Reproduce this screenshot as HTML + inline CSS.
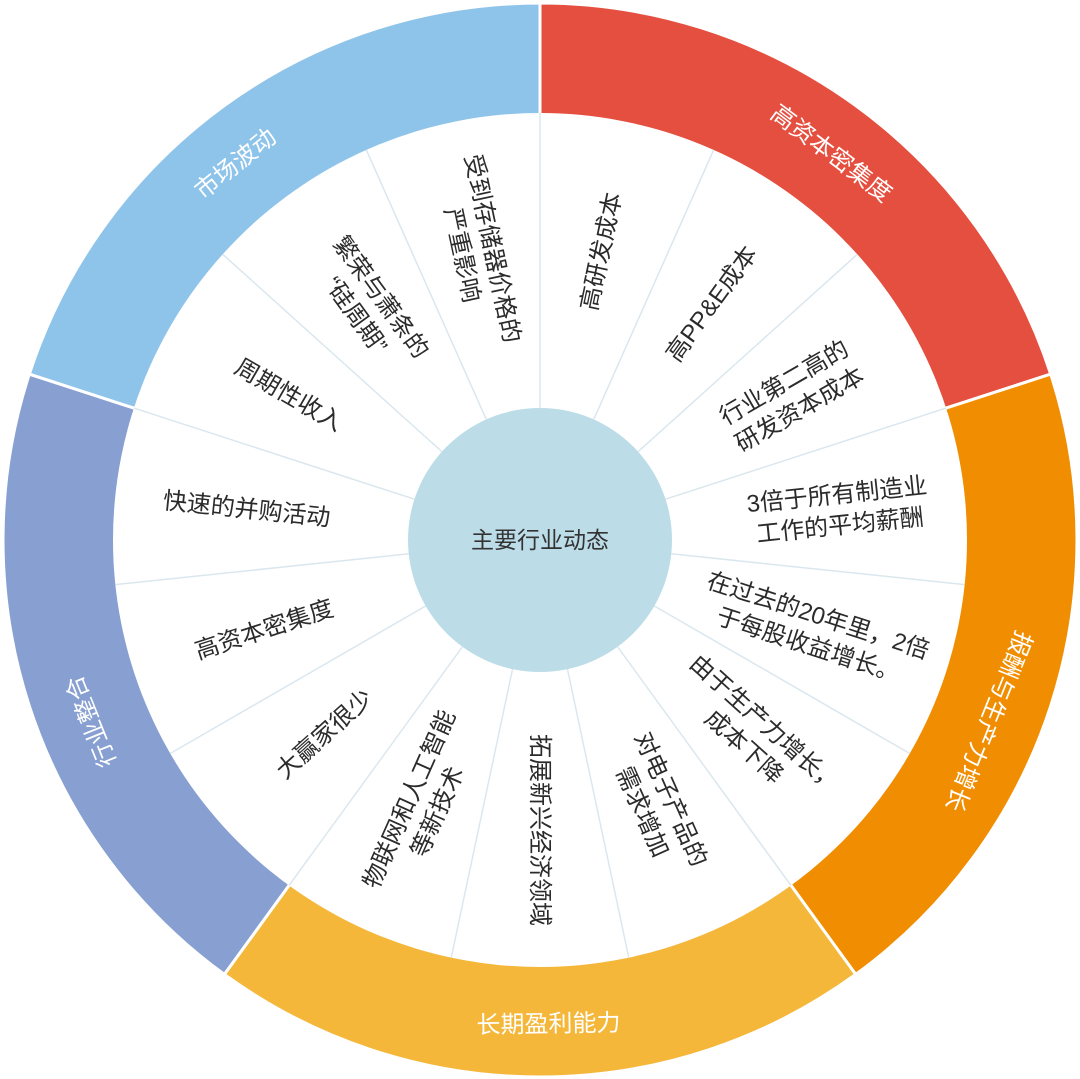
<!DOCTYPE html>
<html><head><meta charset="utf-8"><style>
html,body{margin:0;padding:0;background:#fff;}
svg{display:block;}
text{font-family:"Liberation Sans","Noto Sans CJK SC",sans-serif;}
.in{font-size:24px;fill:#2b2b2b;}
.out{font-size:24px;fill:#fff;}
</style></head><body>
<svg width="1080" height="1079" viewBox="0 0 1080 1079" xmlns="http://www.w3.org/2000/svg">
<g stroke="#fff" stroke-width="3">
<path d="M540 540 L540 3 A537 537 0 0 1 1050.7 374.1 Z" fill="#e54f3f"/>
<path d="M540 540 L1050.7 374.1 A537 537 0 0 1 855.7 974.4 Z" fill="#f18d00"/>
<path d="M540 540 L855.7 974.4 A537 537 0 0 1 224.3 974.4 Z" fill="#f4b73a"/>
<path d="M540 540 L224.3 974.4 A537 537 0 0 1 29.3 374.1 Z" fill="#879fd1"/>
<path d="M540 540 L29.3 374.1 A537 537 0 0 1 540 3 Z" fill="#8fc4ea"/>
</g>
<circle cx="540" cy="540" r="427" fill="#fff"/>
<g stroke="#dbe7ee" stroke-width="1.5">
<line x1="672" y1="540" x2="967" y2="540" transform="rotate(-90 540 540)"/>
<line x1="672" y1="540" x2="967" y2="540" transform="rotate(-66 540 540)"/>
<line x1="672" y1="540" x2="967" y2="540" transform="rotate(-42 540 540)"/>
<line x1="672" y1="540" x2="967" y2="540" transform="rotate(-18 540 540)"/>
<line x1="672" y1="540" x2="967" y2="540" transform="rotate(6 540 540)"/>
<line x1="672" y1="540" x2="967" y2="540" transform="rotate(30 540 540)"/>
<line x1="672" y1="540" x2="967" y2="540" transform="rotate(54 540 540)"/>
<line x1="672" y1="540" x2="967" y2="540" transform="rotate(78 540 540)"/>
<line x1="672" y1="540" x2="967" y2="540" transform="rotate(102 540 540)"/>
<line x1="672" y1="540" x2="967" y2="540" transform="rotate(126 540 540)"/>
<line x1="672" y1="540" x2="967" y2="540" transform="rotate(150 540 540)"/>
<line x1="672" y1="540" x2="967" y2="540" transform="rotate(174 540 540)"/>
<line x1="672" y1="540" x2="967" y2="540" transform="rotate(198 540 540)"/>
<line x1="672" y1="540" x2="967" y2="540" transform="rotate(222 540 540)"/>
<line x1="672" y1="540" x2="967" y2="540" transform="rotate(246 540 540)"/>
</g>
<circle cx="540" cy="540" r="132" fill="#bcdde8"/>
<text x="540" y="548" text-anchor="middle" style="font-size:23px;fill:#333">主要行业动态</text>

<g class="in" text-anchor="middle">
<text transform="rotate(-78 540 540)" x="835" y="548">高研发成本</text>
<text transform="rotate(-54 540 540)" x="832" y="548">高PP&amp;E成本</text>
<text transform="rotate(-30 540 540)" x="830" y="534"><tspan x="830">行业第二高的</tspan><tspan x="830" dy="31">研发资本成本</tspan></text>
<text transform="rotate(-6 540 540)" x="840" y="534"><tspan x="840">3倍于所有制造业</tspan><tspan x="840" dy="31">工作的平均薪酬</tspan></text>
<text transform="rotate(18 540 540)" x="828" y="534"><tspan x="828">在过去的20年里，2倍</tspan><tspan x="828" dy="31">于每股收益增长。</tspan></text>
<text transform="rotate(42 540 540)" x="830" y="534"><tspan x="830">由于生产力增长，</tspan><tspan x="830" dy="31">成本下降</tspan></text>
<text transform="rotate(66 540 540)" x="830" y="534"><tspan x="830">对电子产品的</tspan><tspan x="830" dy="31">需求增加</tspan></text>
<text transform="rotate(90 540 540)" x="830" y="548">拓展新兴经济领域</text>
<text transform="rotate(114 540 540) rotate(180 830 540)" x="830" y="534"><tspan x="830">物联网和人工智能</tspan><tspan x="830" dy="31">等新技术</tspan></text>
<text transform="rotate(138 540 540) rotate(180 830 540)" x="830" y="548">大赢家很少</text>
<text transform="rotate(162 540 540) rotate(180 830 540)" x="830" y="548">高资本密集度</text>
<text transform="rotate(186 540 540) rotate(180 835 540)" x="835" y="548">快速的并购活动</text>
<text transform="rotate(210 540 540) rotate(180 830 540)" x="830" y="548">周期性收入</text>
<text transform="rotate(234 540 540) rotate(180 830 540)" x="830" y="534"><tspan x="830">繁荣与萧条的</tspan><tspan x="830" dy="31">“硅周期”</tspan></text>
<text transform="rotate(258 540 540) rotate(180 835 540)" x="835" y="534"><tspan x="835">受到存储器价格的</tspan><tspan x="835" dy="31">严重影响</tspan></text>
</g>

<g class="out" text-anchor="middle">
<text transform="rotate(231 540 540) rotate(90 1024 540)" x="1024" y="548">市场波动</text>
<text transform="rotate(307 540 540) rotate(90 1024 540)" x="1024" y="548">高资本密集度</text>
<text transform="rotate(22 540 540) rotate(90 1024 540)" x="1024" y="548">报酬与生产力增长</text>
<text transform="rotate(89 540 540) rotate(-90 1024 540)" x="1024" y="548">长期盈利能力</text>
<text transform="rotate(158 540 540) rotate(90 1024 540)" x="1024" y="548">行业整合</text>
</g>
</svg>
</body></html>
